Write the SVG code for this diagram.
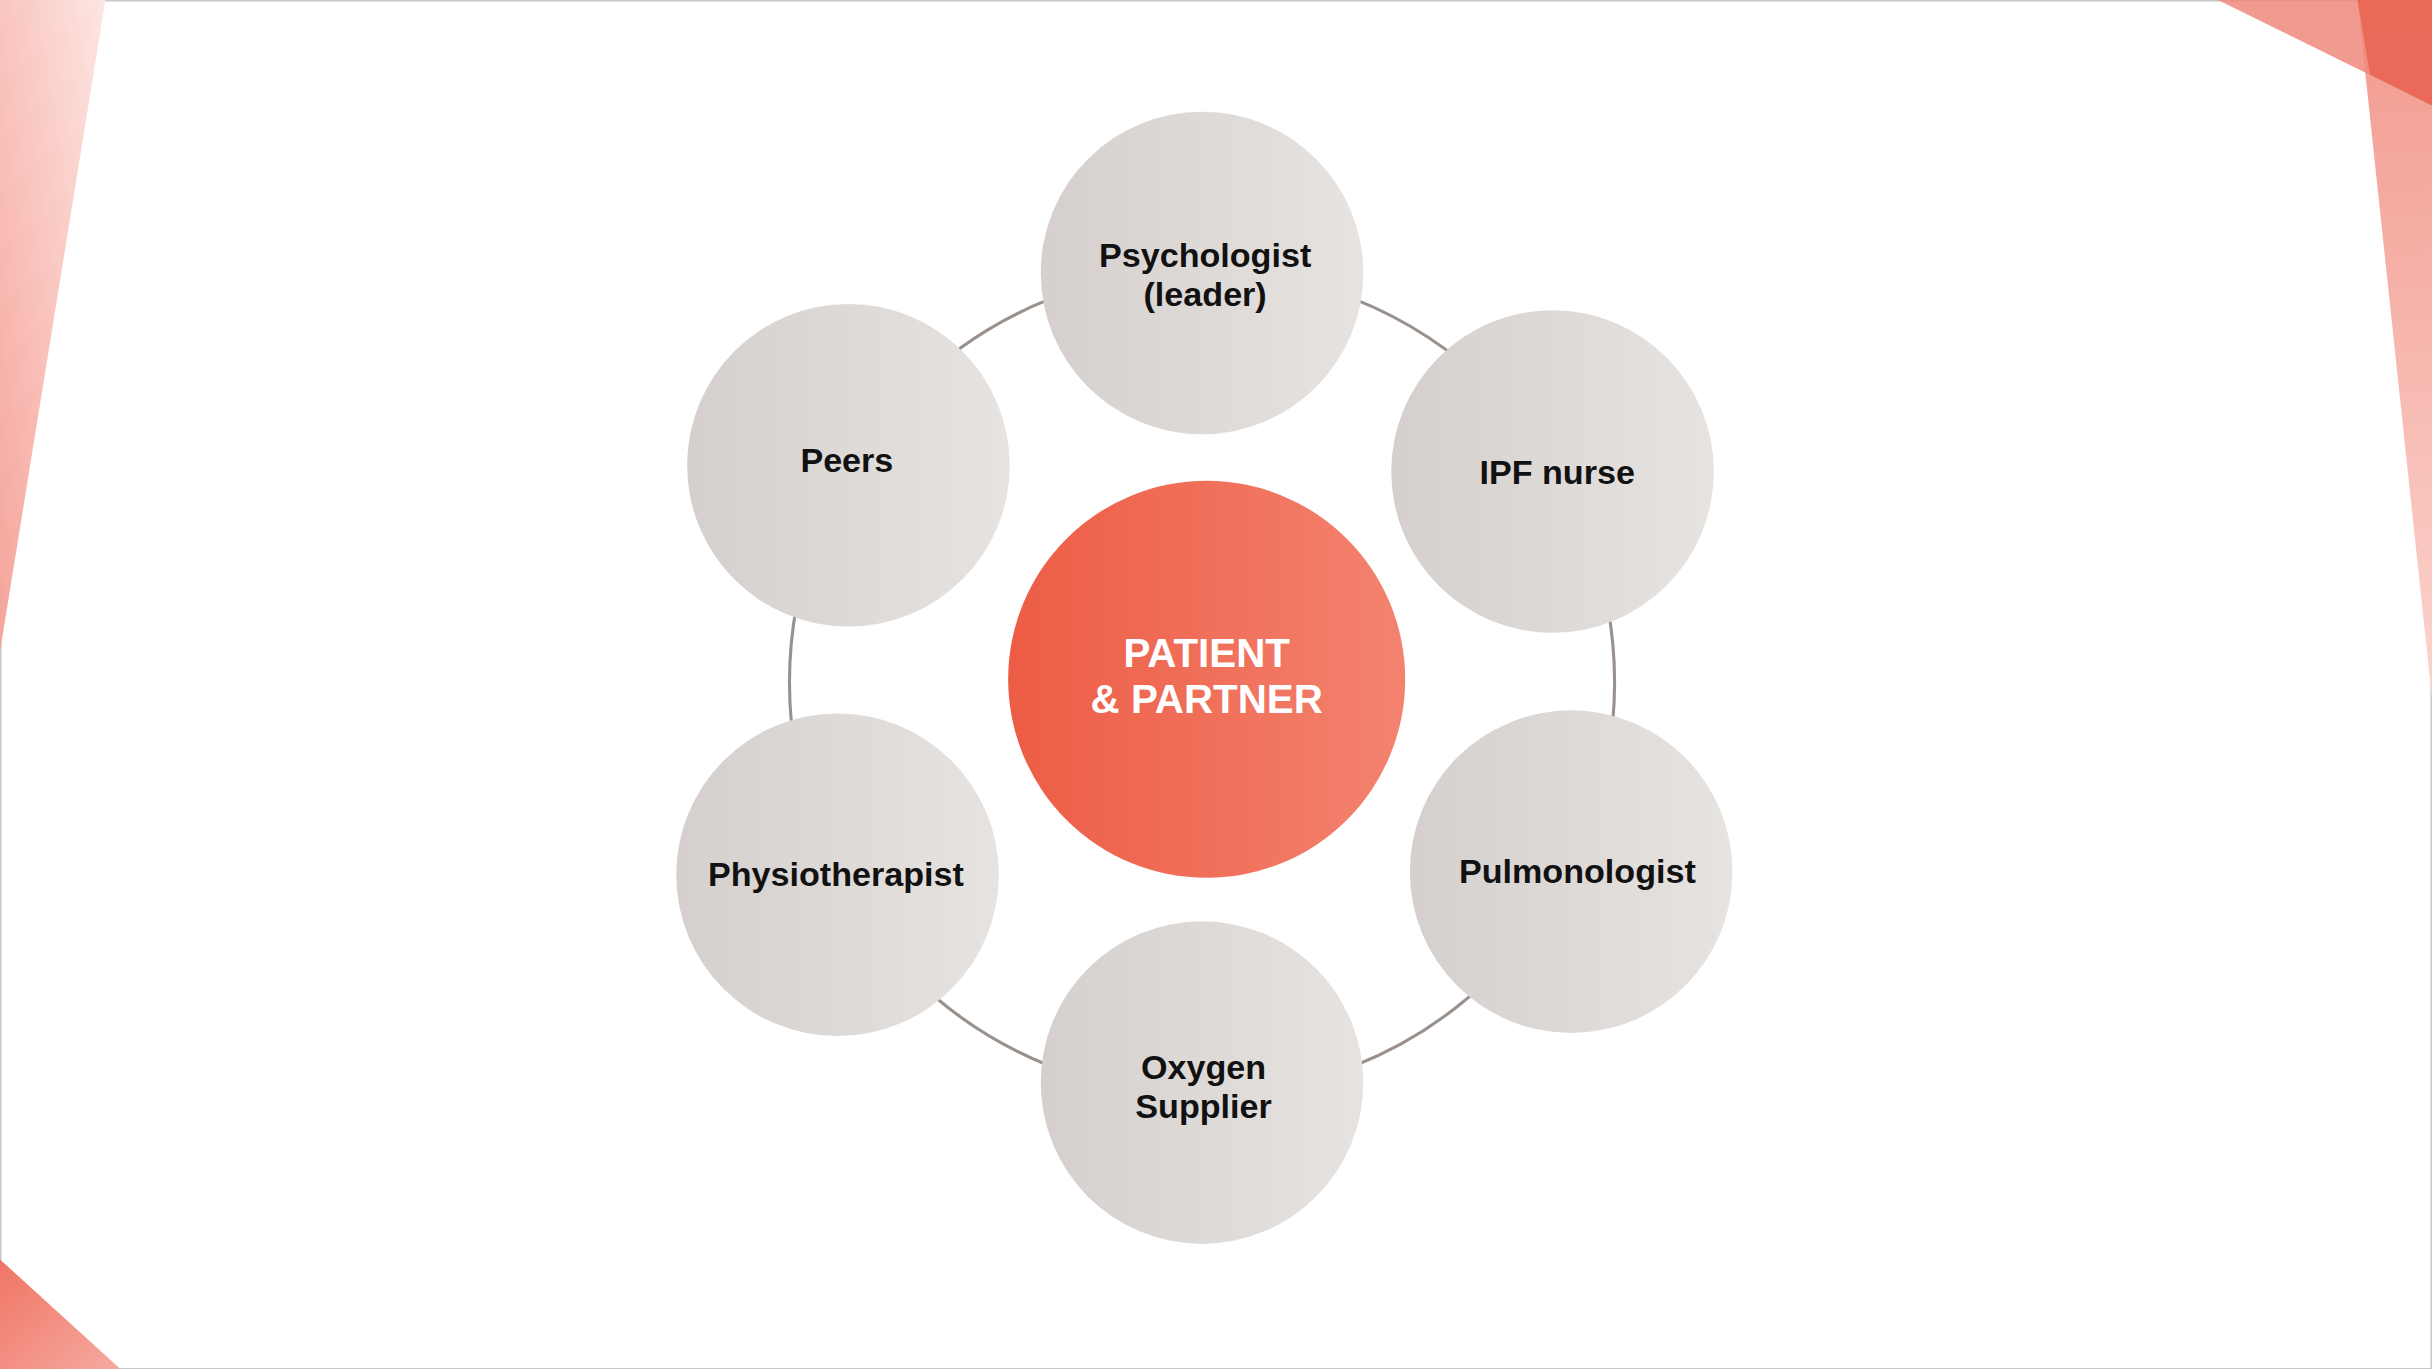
<svg xmlns="http://www.w3.org/2000/svg" width="2432" height="1369" viewBox="0 0 2432 1369">
<style>
.lbl{font-family:"Liberation Sans",Arial,sans-serif;font-weight:bold;font-size:22px;fill:#111;text-anchor:middle}
.ctr{font-family:"Liberation Sans",Arial,sans-serif;font-weight:bold;font-size:26px;fill:#fff;text-anchor:middle}
</style>
<defs>
<linearGradient id="g" x1="0" x2="1" y1="0" y2="0"><stop offset="0" stop-color="#d5d0cd"/><stop offset="1" stop-color="#e6e3e1"/></linearGradient>
<linearGradient id="r" x1="0" x2="1" y1="0" y2="0"><stop offset="0" stop-color="#ed5c45"/><stop offset="1" stop-color="#f3836f"/></linearGradient>
<linearGradient id="tl" x1="1" y1="0" x2="0" y2="1"><stop offset="0" stop-color="#fde6e3"/><stop offset="1" stop-color="#f5a49a"/></linearGradient>
<linearGradient id="tr" x1="0" y1="0" x2="0" y2="1"><stop offset="0" stop-color="#f29a8e"/><stop offset="1" stop-color="#fbd4ce"/></linearGradient>
<linearGradient id="bl" x1="0" y1="0" x2="1" y2="1"><stop offset="0" stop-color="#ef7565"/><stop offset="1" stop-color="#f6aaa0"/></linearGradient>
</defs>
<rect width="2432" height="1369" fill="#fff"/>
<g transform="scale(1.551)">
<rect x="0.5" y="0.5" width="1567" height="882" fill="none" stroke="#c8c8c8"/>
<polygon points="0,0 68,0 0,420" fill="url(#tl)"/>
<polygon points="1520,0 1568,0 1568,450" fill="url(#tr)"/>
<polygon points="1430,0 1568,0 1568,68" fill="#ee8a7c" opacity="0.85"/>
<polygon points="1520,0 1568,0 1568,68 1528,48" fill="#e8604d" opacity="0.8"/>
<polygon points="0,812 0,883 78,883" fill="url(#bl)"/>
<g id="connectors"><circle cx="775" cy="440" r="266" fill="none" stroke="#9a918d" stroke-width="2"/></g>
<g id="psychologist"><circle cx="775" cy="176" r="104" fill="url(#g)"/><text class="lbl" x="777" y="172">Psychologist</text><text class="lbl" x="777" y="197">(leader)</text></g>
<g id="ipf"><circle cx="1001" cy="304" r="104" fill="url(#g)"/><text class="lbl" x="1004" y="312">IPF nurse</text></g>
<g id="pulmonologist"><circle cx="1013" cy="562" r="104" fill="url(#g)"/><text class="lbl" x="1017" y="569">Pulmonologist</text></g>
<g id="oxygen"><circle cx="775" cy="698" r="104" fill="url(#g)"/><text class="lbl" x="776" y="696">Oxygen</text><text class="lbl" x="776" y="721">Supplier</text></g>
<g id="physio"><circle cx="540" cy="564" r="104" fill="url(#g)"/><text class="lbl" x="539" y="571">Physiotherapist</text></g>
<g id="peers"><circle cx="547" cy="300" r="104" fill="url(#g)"/><text class="lbl" x="546" y="304">Peers</text></g>
<g id="patient"><circle cx="778" cy="438" r="128" fill="url(#r)"/><text class="ctr" x="778" y="430">PATIENT</text><text class="ctr" x="778" y="460">&amp; PARTNER</text></g>
</g>
</svg>
